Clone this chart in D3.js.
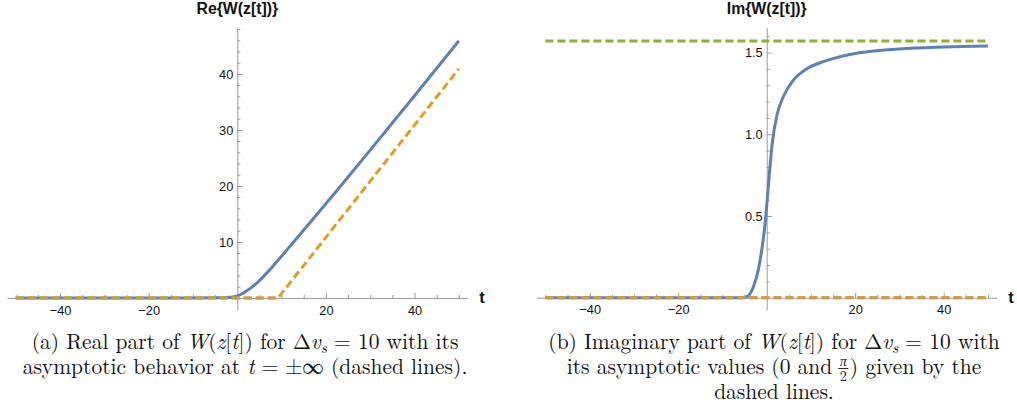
<!DOCTYPE html>
<html>
<head>
<meta charset="utf-8">
<script src="https://cdn.jsdelivr.net/npm/d3@7"></script>
<style>
body { margin: 0; background: #fff; }
svg { display: block; }
</style>
</head>
<body>
<script>
// values
var tRe = [-50, -10, -5, -3, -1, 0, 1, 2, 3.6, 5, 7.4, 11.1, 14.9, 18.7, 22.4, 30, 40, 50];
var reW = [0, 0, 0.02, 0.07, 0.18, 0.36, 0.7, 1.2, 2.1, 3.1, 5.1, 8.5, 12.05, 15.6, 19.1, 26.4, 36.1, 45.9];
var tReAsym = [-50, 9.2, 50];
var reAsym = [0, 0, 40.9];

var tIm = [-50, -6, -4.5, -3, -1.9, -1.13, -0.54, 0, 0.6, 1.35, 2.26, 3.76, 6, 9, 12.8, 18.8, 30, 40, 50];
var imW = [0, 0, 0.006, 0.067, 0.17, 0.29, 0.41, 0.56, 0.76, 0.965, 1.11, 1.23, 1.33, 1.40, 1.444, 1.488, 1.522, 1.534, 1.54];
var tImAsym = [-50, 50];
var imLow = [0, 0];
var imHigh = [1.5708, 1.5708];

// tick labels
var tMajor = [-40, -20, 20, 40];
var tMinor = [-50, -45, -35, -30, -25, -15, -10, -5, 5, 10, 15, 25, 30, 35, 45, 50];
var reMajor = [10, 20, 30, 40];
var reMinor = [2, 4, 6, 8, 12, 14, 16, 18, 22, 24, 26, 28, 32, 34, 36, 38, 42, 44, 46, 48];
var imMajor = [0.5, 1.0, 1.5];
var imMinor = [0.1, 0.2, 0.3, 0.4, 0.6, 0.7, 0.8, 0.9, 1.1, 1.2, 1.3, 1.4, 1.6];

var w = 1017, h = 411;
var blue = "#5e81b5", orange = "#e19c24", brown = "#c99c52", green = "#8fb032";
var axisGray = "#9a9a9a";
var sans = "'Liberation Sans', Arial, sans-serif";

var svg = d3.select("body").append("svg")
    .attr("width", w)
    .attr("height", h);

function zip(xs, ys) {
    return xs.map(function (x, i) { return [x, ys[i]]; });
}

function drawPanel(p) {
    var xScale = d3.scaleLinear().domain([-52, 52]).range(p.xRange);
    var yScale = d3.scaleLinear().domain(p.yDomain).range([310, p.yTop]);
    var g = svg.append("g");

    // minor ticks (these also carry the axis lines)
    g.append("g")
        .attr("transform", "translate(0," + yScale(0) + ")")
        .call(d3.axisBottom(xScale).tickValues(tMinor).tickSizeInner(-3).tickSizeOuter(0).tickFormat(""));
    g.append("g")
        .attr("transform", "translate(" + xScale(0) + ",0)")
        .call(d3.axisLeft(yScale).tickValues(p.yMinor).tickSizeInner(-3).tickSizeOuter(0).tickFormat(""));

    // major ticks with labels
    var xa = g.append("g")
        .attr("transform", "translate(0," + yScale(0) + ")")
        .call(d3.axisBottom(xScale).tickValues(tMajor).tickSizeInner(-5).tickSizeOuter(0).tickPadding(7.5));
    var ya = g.append("g")
        .attr("transform", "translate(" + xScale(0) + ",0)")
        .call(d3.axisLeft(yScale).tickValues(p.yMajor).tickSizeInner(-5).tickSizeOuter(0).tickPadding(4)
            .tickFormat(p.yFormat));
    xa.select(".domain").remove();
    ya.select(".domain").remove();

    g.selectAll(".domain, .tick line").attr("stroke", axisGray).attr("stroke-width", 1);
    g.selectAll(".tick text")
        .attr("font-family", sans)
        .attr("font-size", "12.8px")
        .attr("fill", "#111");

    var line = d3.line()
        .x(function (d) { return xScale(d[0]); })
        .y(function (d) { return yScale(d[1]); });

    g.append("path")
        .datum(zip(p.t, p.v))
        .attr("fill", "none")
        .attr("stroke", blue)
        .attr("stroke-width", 3)
        .attr("d", line.curve(d3.curveMonotoneX));

    line.curve(d3.curveLinear);
    p.dashed.forEach(function (s) {
        var pts = zip(s.t, s.v);
        g.append("path")
            .datum(pts)
            .attr("fill", "none")
            .attr("stroke", s.color)
            .attr("stroke-width", 3)
            .attr("stroke-dasharray", "8,4")
            .attr("d", line);
        // the flat part lying on the axis looks browner
        var flat = pts.filter(function (d) { return d[1] === 0; });
        if (s.color === orange && flat.length > 1) {
            g.append("path")
                .datum(flat)
                .attr("fill", "none")
                .attr("stroke", brown)
                .attr("stroke-width", 3)
                .attr("stroke-dasharray", "8,4")
                .attr("d", line);
        }
    });

    svg.append("text")
        .attr("x", xScale(0))
        .attr("y", 13.5)
        .attr("text-anchor", "middle")
        .attr("font-family", sans)
        .attr("font-weight", "bold")
        .attr("font-size", "15.8px")
        .attr("fill", "#111")
        .text(p.title);

    svg.append("text")
        .attr("x", xScale(52) + 11.5)
        .attr("y", 303)
        .attr("font-family", sans)
        .attr("font-weight", "bold")
        .attr("font-size", "16.5px")
        .attr("fill", "#111")
        .text("t");
}

drawPanel({
    xRange: [6.9, 467.7],
    yDomain: [-2.15, 48.2],
    yTop: 28,
    yMajor: reMajor,
    yMinor: reMinor,
    yFormat: d3.format("d"),
    t: tRe,
    v: reW,
    dashed: [{ t: tReAsym, v: reAsym, color: orange }],
    title: "Re{W(z[t])}"
});

drawPanel({
    xRange: [536.6, 996.8],
    yDomain: [-0.075, 1.652],
    yTop: 27.7,
    yMajor: imMajor,
    yMinor: imMinor,
    yFormat: d3.format(".1f"),
    t: tIm,
    v: imW,
    dashed: [
        { t: tImAsym, v: imLow, color: orange },
        { t: tImAsym, v: imHigh, color: green }
    ],
    title: "Im{W(z[t])}"
});

// captions
var capFont = "'Latin Modern Roman', 'CMU Serif', 'Liberation Serif', 'Times New Roman', serif";
var capSize = 21.5;

// one <text> per run of words; "i" = italic, "s" = italic subscript
function textRun(g, x, parts) {
    var t = g.append("text").attr("x", x).attr("y", 0).style("white-space", "pre");
    var shift = 0;
    parts.forEach(function (p) {
        var sp = t.append("tspan").text(p[0]);
        var target = p[1] === "s" ? 4 : 0;
        if (target !== shift) { sp.attr("dy", target - shift); shift = target; }
        if (p[1] === "i" || p[1] === "s") sp.attr("font-style", "italic");
        if (p[1] === "s") sp.attr("font-size", (capSize * 0.7) + "px");
    });
    return t.node().getComputedTextLength();
}

function captionLine(cx, y, segments) {
    var g = svg.append("g")
        .attr("font-family", capFont)
        .attr("font-size", capSize + "px")
        .attr("fill", "#111");
    var x = 0;
    segments.forEach(function (s) {
        if (s.frac) {
            x += 5; // word space before the fraction
            var fs = capSize * 0.66;
            var num = g.append("text").attr("font-size", fs + "px").attr("font-style", "italic")
                .attr("text-anchor", "middle").text(s.frac[0]);
            var den = g.append("text").attr("font-size", fs + "px")
                .attr("text-anchor", "middle").text(s.frac[1]);
            var fw = Math.max(num.node().getComputedTextLength(), den.node().getComputedTextLength()) + 3;
            num.attr("x", x + fw / 2 + 1).attr("y", -8.5);
            den.attr("x", x + fw / 2 + 1).attr("y", 7);
            g.append("line")
                .attr("x1", x + 1).attr("x2", x + fw + 1)
                .attr("y1", -5.5).attr("y2", -5.5)
                .attr("stroke", "#111").attr("stroke-width", 0.9);
            x += fw + 2.5;
        } else {
            x += textRun(g, x, s);
        }
    });
    g.attr("transform", "translate(" + (cx - x / 2) + "," + y + ")");
}

captionLine(245, 349, [[["(a) Real part of ", "r"], ["W", "i"], ["(", "r"], ["z", "i"], ["[", "r"], ["t", "i"],
    ["]) for Δ", "r"], ["v", "i"], ["s", "s"], [" = 10 with its", "r"]]]);
captionLine(245, 374, [[["asymptotic behavior at ", "r"], ["t", "i"], [" = ±∞ (dashed lines).", "r"]]]);

captionLine(774, 349, [[["(b) Imaginary part of ", "r"], ["W", "i"], ["(", "r"], ["z", "i"], ["[", "r"], ["t", "i"],
    ["]) for Δ", "r"], ["v", "i"], ["s", "s"], [" = 10 with", "r"]]]);
captionLine(774, 374, [[["its asymptotic values (0 and", "r"]], { frac: ["π", "2"] }, [[") given by the", "r"]]]);
captionLine(774, 399, [[["dashed lines.", "r"]]]);
</script>
</body>
</html>
